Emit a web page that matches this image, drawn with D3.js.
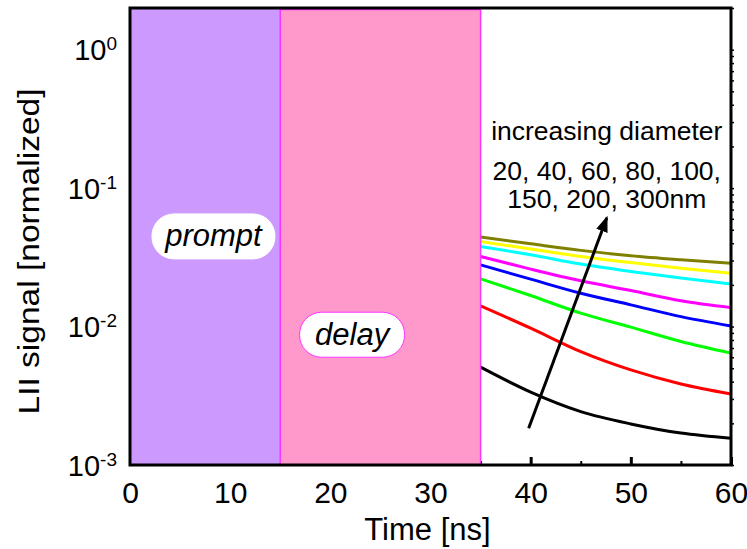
<!DOCTYPE html>
<html>
<head>
<meta charset="utf-8">
<script src="https://cdn.jsdelivr.net/npm/d3@7"></script>
<style>
    body { margin: 0; background: white; }
    text { font-family: "Liberation Sans", Arial, sans-serif; fill: black; }
</style>
</head>
<body>
<div id="chart"></div>
<script>
const time = [35, 40, 45, 50, 55, 60]

// normalized LII signal per primary particle diameter (nm)
const diameters = [20, 40, 60, 80, 100, 150, 200, 300]
const colours = ["black", "#ff0000", "#00ff00", "#0000ff", "#ff00ff", "#00ffff", "#ffff00", "#808000"]
const signal20 = [0.00509, 0.00336, 0.00243, 0.00198, 0.00170, 0.00156]
const signal40 = [0.0141, 0.00973, 0.00659, 0.00486, 0.00385, 0.00326]
const signal60 = [0.0221, 0.01675, 0.0125, 0.0099, 0.0078, 0.00643]
const signal80 = [0.0279, 0.0220, 0.0174, 0.01435, 0.0118, 0.0101]
const signal100 = [0.0321, 0.0260, 0.0214, 0.0182, 0.01535, 0.0137]
const signal150 = [0.0379, 0.0330, 0.0283, 0.0250, 0.0224, 0.0203]
const signal200 = [0.0412, 0.0363, 0.0321, 0.0290, 0.0264, 0.0243]
const signal300 = [0.0443, 0.0396, 0.0355, 0.0325, 0.0304, 0.0287]
const allSignals = [signal20, signal40, signal60, signal80, signal100, signal150, signal200, signal300]

// gate windows (ns)
const promptGate = [0, 15]
const delayGate = [15, 35]

const xTicks = [0, 10, 20, 30, 40, 50, 60]
const yDecades = [-3, -2, -1, 0]

const margin = {top: 8, right: 16, bottom: 84, left: 130},
    width = 747 - margin.left - margin.right,
    height = 549 - margin.top - margin.bottom

const svg = d3.select("#chart")
  .append("svg")
    .attr("width", 747)
    .attr("height", 549)

const g = svg.append("g")
    .attr("transform", `translate(${margin.left},${margin.top})`)

const x = d3.scaleLinear().domain([0, 60]).range([0, width])
const y = d3.scaleLog().domain([0.001, 2]).range([height, 0])

// curves
const line = d3.line()
    .x((d, i) => x(time[i]))
    .y(d => y(d))
    .curve(d3.curveMonotoneX)

g.selectAll(".curve")
    .data(allSignals)
    .join("path")
    .attr("class", "curve")
    .attr("d", d => line(d))
    .attr("fill", "none")
    .attr("stroke", (d, i) => colours[i])
    .attr("stroke-width", 3)

// bottom ticks (inward), labels below
const xAxis = g.append("g")
    .attr("transform", `translate(0, ${height})`)
    .call(d3.axisBottom(x).tickValues(xTicks).tickSizeInner(-8).tickSizeOuter(0).tickPadding(17))
xAxis.select(".domain").remove()
xAxis.selectAll(".tick line").attr("stroke-width", 3)
xAxis.selectAll("text").style("font-size", "30px").attr("fill", "black")

g.append("g")
    .attr("transform", `translate(0, ${height})`)
    .call(d3.axisBottom(x).tickValues([5, 15, 25, 35, 45, 55]).tickSizeInner(-4).tickSizeOuter(0).tickFormat(""))
    .call(a => a.select(".domain").remove())
    .selectAll(".tick line").attr("stroke-width", 2)

// right ticks (log minor)
const yTickVals = y.ticks()
g.append("g")
    .attr("transform", `translate(${width}, 0)`)
    .call(d3.axisRight(y).tickValues(yTickVals).tickSizeInner(3).tickSizeOuter(0).tickFormat(""))
    .call(a => a.select(".domain").remove())
    .selectAll(".tick line").attr("stroke-width", 1.5)

// gate windows
g.append("rect")
    .attr("x", x(promptGate[0]))
    .attr("y", 0)
    .attr("width", x(promptGate[1]) - x(promptGate[0]))
    .attr("height", height)
    .attr("fill", "#cc99ff")

g.append("rect")
    .attr("x", x(delayGate[0]))
    .attr("y", 1.5)
    .attr("width", x(delayGate[1]) - x(delayGate[0]))
    .attr("height", height - 1.5)
    .attr("fill", "#ff99cc")
    .attr("stroke", "#ff33ff")
    .attr("stroke-width", 1.5)

// frame
g.append("rect")
    .attr("width", width)
    .attr("height", height)
    .attr("fill", "none")
    .attr("stroke", "black")
    .attr("stroke-width", 3)

// y tick labels 10^n
const yLabels = g.append("g")
yDecades.forEach(n => {
    const t = yLabels.append("text")
        .attr("x", -13)
        .attr("y", y(Math.pow(10, n)) + 10.5)
        .attr("text-anchor", "end")
        .style("font-size", "29px")
    t.append("tspan").text("10")
    t.append("tspan").attr("dy", -10).style("font-size", "19px").text(n)
})

// axis titles
svg.append("text")
    .attr("x", margin.left + width / 2 - 3)
    .attr("y", 540)
    .attr("text-anchor", "middle")
    .style("font-size", "31px")
    .text("Time [ns]")

svg.append("text")
    .attr("transform", "translate(38.5, 251.5) rotate(-90)")
    .attr("text-anchor", "middle")
    .attr("textLength", 326)
    .attr("lengthAdjust", "spacingAndGlyphs")
    .style("font-size", "30px")
    .text("LII signal [normalized]")

// gate labels
const gateLabels = [
    {text: "prompt", t: 8.33, v: 0.0448, w: 123, stroke: "white"},
    {text: "delay", t: 22.17, v: 0.00873, w: 105, stroke: "#ff33ff"}
]
gateLabels.forEach(d => {
    const lg = g.append("g").attr("transform", `translate(${x(d.t)}, ${y(d.v)})`)
    lg.append("rect")
        .attr("x", -d.w / 2)
        .attr("y", -22.5)
        .attr("width", d.w)
        .attr("height", 45)
        .attr("rx", 22)
        .attr("fill", "white")
        .attr("stroke", d.stroke)
        .attr("stroke-width", 1)
    lg.append("text")
        .attr("y", 10)
        .attr("text-anchor", "middle")
        .style("font-size", "31px")
        .style("font-style", "italic")
        .text(d.text)
})

// trend arrow
svg.append("defs").append("marker")
    .attr("id", "head")
    .attr("markerUnits", "userSpaceOnUse")
    .attr("markerWidth", 16)
    .attr("markerHeight", 12)
    .attr("refX", 14)
    .attr("refY", 6)
    .attr("orient", "auto")
  .append("path")
    .attr("d", "M0,0 L16,6 L0,12 Z")
    .attr("fill", "black")

const arrowFrom = [39.8, 0.00184]
const arrowTo = [47.6, 0.0611]
g.append("line")
    .attr("x1", x(arrowFrom[0]))
    .attr("y1", y(arrowFrom[1]))
    .attr("x2", x(arrowTo[0]))
    .attr("y2", y(arrowTo[1]))
    .attr("stroke", "black")
    .attr("stroke-width", 3)
    .attr("marker-end", "url(#head)")

// annotation text
const noteLines = ["increasing diameter", "20, 40, 60, 80, 100,", "150, 200, 300nm"]
const noteBaselines = [139.5, 180, 208]
noteLines.forEach((s, i) => {
    svg.append("text")
        .attr("x", margin.left + x(47.6))
        .attr("y", noteBaselines[i])
        .attr("text-anchor", "middle")
        .style("font-size", "26.5px")
        .text(s)
})
</script>
</body>
</html>
